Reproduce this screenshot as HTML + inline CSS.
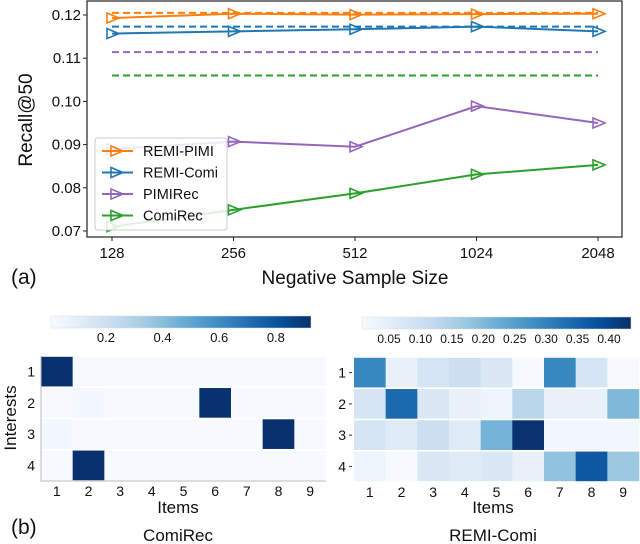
<!DOCTYPE html>
<html><head><meta charset="utf-8"><style>
html,body{margin:0;padding:0;background:#fff;}
svg{display:block;font-family:"Liberation Sans","DejaVu Sans",sans-serif;}
</style></head><body>
<svg id="fig" width="640" height="544" viewBox="0 0 640 544" xmlns="http://www.w3.org/2000/svg">
<g id="topchart"></g>
<g id="hm"></g>
</svg>
<script>
const xCats = ["128","256","512","1024","2048"];
const yTicks = [0.07,0.08,0.09,0.10,0.11,0.12];
const seriesNames = ["REMI-PIMI","REMI-Comi","PIMIRec","ComiRec"];
const seriesColors = ["#ff7f0e","#1f77b4","#9467bd","#2ca02c"];
const remiPimi = [0.1193,0.1203,0.1201,0.1202,0.1203];
const remiComi = [0.1157,0.1162,0.1167,0.1173,0.1162];
const pimiRec = [0.0890,0.0907,0.0895,0.0989,0.0950];
const comiRec = [0.0710,0.0749,0.0787,0.0831,0.0853];
const baselines = [0.1205,0.1173,0.1114,0.1060];

const comiItems = ["1","2","3","4","5","6","7","8","9"];
const interests = ["1","2","3","4"];
const comiHeat = [
 [0.92,0.01,0.01,0.01,0.01,0.01,0.01,0.01,0.01],
 [0.01,0.03,0.01,0.01,0.01,0.92,0.01,0.01,0.01],
 [0.03,0.01,0.01,0.01,0.01,0.01,0.01,0.92,0.01],
 [0.01,0.92,0.01,0.01,0.01,0.01,0.01,0.01,0.01]];
const remiHeat = [
 [0.29,0.04,0.08,0.10,0.07,0.01,0.29,0.08,0.01],
 [0.08,0.34,0.07,0.04,0.03,0.13,0.04,0.04,0.20],
 [0.08,0.06,0.10,0.06,0.21,0.43,0.02,0.02,0.02],
 [0.03,0.01,0.07,0.06,0.07,0.04,0.18,0.37,0.17]];
const comiCbTicks = [0.2,0.4,0.6,0.8];
const remiCbTicks = [0.05,0.10,0.15,0.20,0.25,0.30,0.35,0.40];

const NS="http://www.w3.org/2000/svg";
function mk(tag,attrs,parent,text){const e=document.createElementNS(NS,tag);for(const k in attrs)e.setAttribute(k,attrs[k]);if(text!==undefined)e.textContent=text;parent.appendChild(e);return e;}

const topG=document.getElementById('topchart');
const xPos=i=>112+i*121.5;
const yPos=v=>15+(0.12-v)*4320;
let ax=mk('rect',{x:87,y:1,width:535,height:236,fill:'none',stroke:'#222','stroke-width':1.2},topG);


yTicks.forEach(v=>{
 const y=yPos(v);
 let t=mk('line',{x1:83,x2:87,y1:y,y2:y,stroke:'#222'},topG);
 
 
 let l=mk('text',{x:81,y:y+5,'text-anchor':'end','font-size':15,fill:'#111'},topG,v.toFixed(2));
 
 
});
xCats.forEach((c,i)=>{
 const x=xPos(i);
 let t=mk('line',{x1:x,x2:x,y1:237,y2:241,stroke:'#222'},topG);
 
 
 let l=mk('text',{x:x,y:258,'text-anchor':'middle','font-size':15,fill:'#111'},topG,c);
 
 
});
let yt=mk('text',{x:0,y:0,transform:'translate(32,120) rotate(-90)','text-anchor':'middle','font-size':19,fill:'#111'},topG,'Recall@50');


let xt=mk('text',{x:355,y:284,'text-anchor':'middle','font-size':19,fill:'#111'},topG,'Negative Sample Size');


let pa=mk('text',{x:11,y:284,'font-size':21,fill:'#111'},topG,'(a)');



const allSeries=[remiPimi,remiComi,pimiRec,comiRec];
function tri(x,y,c,g){
 return mk('path',{d:`M${x-5},${y-5} L${x+7},${y} L${x-5},${y+5} Z`,fill:'none',stroke:c,'stroke-width':1.6},g);
}
baselines.forEach((b,i)=>{
 let d=mk('line',{x1:xPos(0),x2:xPos(4),y1:yPos(b),y2:yPos(b),stroke:seriesColors[i],'stroke-width':2,'stroke-dasharray':'7,4'},topG);
 
 
});
for(let s=3;s>=0;s--){
 const vals=allSeries[s];
 const g=mk('g',{},topG);
 
 
 mk('polyline',{points:vals.map((v,i)=>xPos(i)+','+yPos(v)).join(' '),fill:'none',stroke:seriesColors[s],'stroke-width':2},g);
 vals.forEach((v,i)=>{
  let m=tri(xPos(i),yPos(v),seriesColors[s],g);
  
  
 });
}
const lg=mk('g',{},topG);


mk('rect',{x:95,y:138,width:132,height:92,rx:3,fill:'rgba(255,255,255,0.85)',stroke:'#ccc'},lg);
seriesNames.forEach((n,i)=>{
 const y=151+i*21.5;
 const e=mk('g',{},lg);
 
 
 mk('line',{x1:102,x2:133,y1:y,y2:y,stroke:seriesColors[i],'stroke-width':2},e);
 tri(116,y,seriesColors[i],e);
 mk('text',{x:143,y:y+5,'font-size':14.5,fill:'#111'},e,n);
});

const stops=["#f7fbff","#deebf7","#c6dbef","#9ecae1","#6baed6","#4292c6","#2171b5","#08519c","#08306b"];
function hex(h){return [1,3,5].map(i=>parseInt(h.substr(i,2),16));}
function blues(t){t=Math.max(0,Math.min(1,t));const f=t*8,i=Math.min(7,Math.floor(f)),r=f-i;const a=hex(stops[i]),b=hex(stops[i+1]);return 'rgb('+a.map((v,k)=>Math.round(v+(b[k]-v)*r)).join(',')+')';}
const hm=document.getElementById('hm');
let gid=0;
function heat(cfg){
 const g=mk('g',{},hm);
 
 
 const cw=(cfg.x1-cfg.x0)/9,rh=(cfg.y1-cfg.y0)/4;
 cfg.data.forEach((row,r)=>row.forEach((v,c)=>{
  let rc=mk('rect',{x:cfg.x0+c*cw,y:cfg.y0+r*rh+0.8,width:cw+0.3,height:rh-1.6,fill:blues((v-cfg.min)/(cfg.max-cfg.min))},g);
  
  
 }));
 if(cfg.frame){mk('polyline',{points:`${cfg.x0},${cfg.y0} ${cfg.x0},${cfg.y1} ${cfg.x1},${cfg.y1}`,fill:'none',stroke:'#bbb'},g);}
 interests.forEach((l,r)=>{
  let t=mk('text',{x:cfg.x0-(cfg.dash?8:6),y:cfg.y0+(r+0.5)*rh+5,'text-anchor':'end','font-size':14,fill:'#111'},g,l);
  
  
  if(cfg.dash) mk('line',{x1:cfg.x0-5,x2:cfg.x0-2,y1:cfg.y0+(r+0.5)*rh,y2:cfg.y0+(r+0.5)*rh,stroke:'#333'},g);
 });
 comiItems.forEach((l,c)=>{
  let t=mk('text',{x:cfg.x0+(c+0.5)*cw,y:cfg.y1+15,'text-anchor':'middle','font-size':14,fill:'#111'},g,l);
  
  
 });
 let it=mk('text',{x:cfg.tx,y:513,'text-anchor':'middle','font-size':17,fill:'#111'},g,'Items');
 
 
 let tt=mk('text',{x:cfg.tx,y:541,'text-anchor':'middle','font-size':17,fill:'#111'},g,cfg.title);
 
 
 gid++;
 const defs=mk('defs',{},g);
 const lgd=mk('linearGradient',{id:'cb'+gid,x1:0,x2:1,y1:0,y2:0},defs);
 stops.forEach((s,i)=>mk('stop',{offset:i/8,'stop-color':s},lgd));
 let cb=mk('rect',{x:cfg.cx0,y:cfg.cy0,width:cfg.cx1-cfg.cx0,height:12,fill:'url(#cb'+gid+')',stroke:'#ddd','stroke-width':0.5},g);
 
 
 const cx=v=>cfg.cx0+(v-cfg.min)/(cfg.max-cfg.min)*(cfg.cx1-cfg.cx0);
 cfg.ticks.forEach(v=>{
  let t=mk('text',{x:cx(v),y:cfg.cy0+26,'text-anchor':'middle','font-size':cfg.tfs,fill:'#111'},g,v.toFixed(cfg.dec));
  
  
 });
}
heat({name:'comirec-heatmap',data:comiHeat,x0:41,x1:326,y0:356,y1:481,min:0.006,max:0.924,cx0:51,cx1:311,cy0:316,ticks:comiCbTicks,dec:1,tfs:13,tx:178,title:'ComiRec',frame:true,dash:false});
heat({name:'remi-comi-heatmap',data:remiHeat,x0:354,x1:639,y0:357,y1:482,min:0.007,max:0.435,cx0:362,cx1:631,cy0:317,ticks:remiCbTicks,dec:2,tfs:12,tx:493,title:'REMI-Comi',frame:false,dash:true});
let iy=mk('text',{x:0,y:0,transform:'translate(16,418) rotate(-90)','text-anchor':'middle','font-size':17,fill:'#111'},hm,'Interests');


let pb=mk('text',{x:11,y:534,'font-size':21,fill:'#111'},hm,'(b)');


</script>
</body></html>
